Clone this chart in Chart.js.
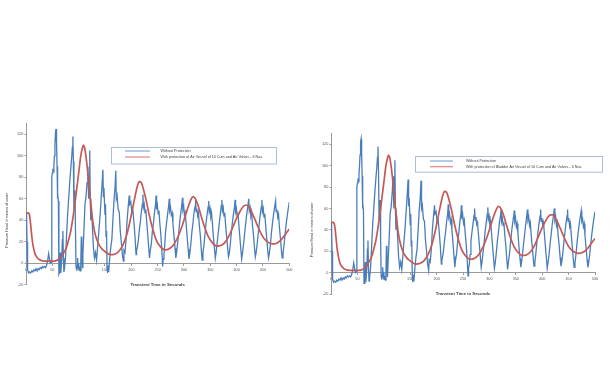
<!DOCTYPE html>
<html><head><meta charset="utf-8">
<script src="https://cdn.jsdelivr.net/npm/chart.js@4.4.0/dist/chart.umd.min.js"></script>
<style>
html,body{margin:0;padding:0;background:#fff;width:610px;height:383px;overflow:hidden;}
.box{position:absolute;}
</style></head><body>
<div class="box" style="left:0;top:110px;width:300px;height:185px"><canvas id="c1"></canvas></div>
<div class="box" style="left:305px;top:120px;width:305px;height:185px"><canvas id="c2"></canvas></div>
<script>
// ---- tick labels ----
const xTicks = [0,50,100,150,200,250,300,350,400,450,500];
const yTicks = [-20,0,20,40,60,80,100,120];

// ---- titles / series names ----
const xTitle = 'Transient Time in Seconds';
const yTitleText = 'Pressure Head in meters of water';
const seriesA = 'Without Protection';
const seriesB1 = 'With protection of Air Vessel of 10 Cum and Air Valves - 6 Nos.';
const seriesB2 = 'With protection of Bladder Air Vessel of 10 Cum and Air Valves - 6 Nos.';

// ---- "Without Protection" (time s, head m) ----
const blueTime = [
 0,1,2,3,5,7,9,11,13,15,
 17,19,21,23,25,27,29,31,33,35,
 37,39,41,43,44,46,48,49,50,51,
 52,53,54,55,56,57,58,59,59.5,60.5,
 61.5,62.5,64,65,66,68,69,70,71,72,
 73,75,77,79,81,83,85,87,88,89,
 90,91,92,93,94,95,96,97,98,99,
 100,101,102,103,104,105,106,107,108,110,
 112,114,116,117.5,119,120,121,122,123,124,
 126,128,130,132,134,136,138,140,142,144,
 146,147,148,150,151,152,153,154,155,156,
 157,159,161,163,165,167,169,170.5,171.5,173,
 175,177,179,181,183,185,186,188,190,192,
 194,196,197,199,201,203,205,207,209,210,
 211,213,215,217,219,221,222,223,224.5,226,227.5,229,231,233,234.5,
 236,238,240,242,244,246,247,248,249.5,251,252.5,254,256,258,259.5,260.5,
 262,263.5,265,267,269,271,272,273,274.5,276,277.5,279,281,283,284.5,
 286,288,290,292,294,296,297,298,299.5,301,302.5,304,306,308,309.5,
 311,313,315,317,319,321,322,323,324.5,326,327.5,329,331,333,334.5,
 336,338,340,342,344,346,347,348,349.5,351,352.5,354,356,358,359.5,
 361,363,365,367,369,371,372,373,374.5,376,377.5,379,381,383,384.5,
 386,388,390,392,394,396,397,398,399.5,401,402.5,404,406,408,409.5,
 411,413,415,417,419,421,423,424,425.5,427,428.5,430,432,434,435.5,
 437,439,441,443,445,447,448,449,450.5,452,453.5,455,457,459,460.5,
 462,464,466,468,470,472,474,475,476.5,478,479.5,481,483,485,486.5,
 488,490,492,494,496,498,500
];
const blueHead = [
 47,46,20,-6,-9,-8,-9,-7,-8,-6,
 -7,-5,-7,-5,-6,-4,-5,-3,-4,-3,
 -4,-2,2,9,6,0,1,80,84,88,
 85,92,100,110,122,125,112,90,60,65,
 58,-10,-8,10,-9,5,22,30,5,-8,
 -5,5,25,45,60,75,88,100,108,118,
 95,50,62,68,30,-3,-6,-2,5,-5,
 0,-6,-3,-7,-2,25,5,-4,8,30,
 55,62,75,90,60,80,105,60,40,55,
 35,15,5,10,3,15,28,40,55,70,
 87,62,70,45,55,25,30,-5,-9,-2,
 -8,5,15,22,40,58,70,86,60,63,
 50,48,30,20,8,2,12,10,22,40,
 52,63,55,57,47,49,38,25,8,12,
 14,20,30,38,48,55,64,52,55,47,50,40,28,15,5,
 12,18,30,37,47,55,63,50,54,46,49,38,27,12,-3,4,
 8,17,29,38,46,54,60,49,52,45,47,37,26,14,5,
 10,19,28,39,47,55,61,50,53,44,47,37,25,13,4,
 9,18,29,37,47,53,59,48,51,44,47,36,26,12,3,
 10,17,28,38,46,53,58,48,51,43,46,37,24,13,5,
 10,19,28,37,46,54,59,49,52,44,47,36,25,14,6,
 9,18,29,38,46,53,59,48,51,44,47,37,25,13,4,
 9,17,27,36,45,52,60,49,52,44,47,36,26,14,6,
 10,18,28,37,46,53,59,48,51,43,46,36,24,12,5,
 9,17,28,37,45,52,58,48,50,43,46,35,24,12,5,
 9,17,27,36,44,51,57
];

// ---- "With protection" (time s, head m) ----
const redTime = [
 0,4,6,8,10,12,14,17,20,25,
 30,40,50,56,62,67,72,77,81,85,
 89,93,97,101,104,107,109,111,114,117,
 121,125,130,136,143,150,160,168,176,184,
 191,197,202,207,211,215,219,223,228,234,
 240,247,255,264,272,280,288,296,303,309,
 313,317,321,326,332,339,346,354,362,370,
 378,386,393,400,406,411,416,420,425,431,
 438,445,452,460,468,475,483,491,500
];
const redHead = [
 47,47,46,40,30,21,15,9,6,3.5,
 2.5,2,2,2.3,3.5,6,10,15,22,30,
 42,56,72,88,100,107,110,108,99,86,
 66,46,30,20,14,11,8,8.5,11,17,
 26,38,50,62,71,76,75,69,59,45,
 33,22,15.5,12.5,13.5,17,24,34,45,54,
 59,62,60.5,55,45,34,25,19,16,16.5,
 19.5,26,34,42,48,52,54,54,51,45,
 37,29,23,19.5,18,18.5,21,26,32
];

const FAMILY = "'Liberation Sans', Arial, sans-serif";

const boxLegend = {
  id: 'boxLegend',
  afterDraw(chart, args, o) {
    const ctx = chart.ctx;
    ctx.save();
    ctx.strokeStyle = '#a9bfdc';
    ctx.lineWidth = 1;
    ctx.strokeRect(o.x + 0.5, o.y + 0.5, o.w, o.h);
    chart.data.datasets.forEach((ds, i) => {
      const yy = o.rows[i];
      ctx.strokeStyle = ds.legendColor;
      ctx.lineWidth = 1.2;
      ctx.beginPath(); ctx.moveTo(o.lx1, yy); ctx.lineTo(o.lx2, yy); ctx.stroke();
      ctx.fillStyle = '#404040';
      ctx.font = '3.7px ' + FAMILY;
      ctx.textBaseline = 'middle';
      ctx.textAlign = 'left';
      ctx.fillText(ds.label, o.tx, yy, o.tw);
    });
    ctx.restore();
  }
};

const yTitlePlugin = {
  id: 'yTitle',
  afterDraw(chart, args, o) {
    const ctx = chart.ctx;
    const y = chart.scales.y.getPixelForValue(o.at);
    ctx.save();
    ctx.translate(o.x, y);
    ctx.rotate(-Math.PI / 2);
    ctx.font = '3.7px ' + FAMILY;
    ctx.fillStyle = '#404040';
    ctx.textAlign = 'center';
    ctx.textBaseline = 'middle';
    ctx.fillText(yTitleText, 0, 0);
    ctx.restore();
  }
};

function makeChart(id, redLabel, pad, legendOpts) {
  const blue = blueTime.map((t, i) => ({x: t, y: blueHead[i]}));
  const red = redTime.map((t, i) => ({x: t, y: redHead[i]}));
  return new Chart(document.getElementById(id), {
    type: 'line',
    data: {
      datasets: [
        {label: seriesA, data: blue, borderColor: '#4A7EBB', legendColor: '#7eaadb', borderWidth: 1.3,
         pointRadius: 0, tension: 0, order: 2},
        {label: redLabel, data: red, borderColor: '#C55A55', legendColor: '#d98a86', borderWidth: 1.7,
         pointRadius: 0, cubicInterpolationMode: 'monotone', order: 1}
      ]
    },
    options: {
      responsive: true, maintainAspectRatio: false, animation: false, devicePixelRatio: 1,
      layout: {padding: pad},
      plugins: {legend: {display: false}, tooltip: {enabled: false},
        boxLegend: legendOpts, yTitle: {x: 6.7, at: 40}},
      scales: {
        x: {
          type: 'linear', position: {y: 0}, min: 0, max: 500,
          afterBuildTicks: s => { s.ticks = xTicks.map(v => ({value: v})); },
          ticks: {font: {size: 3.8, family: FAMILY}, color: '#595959', padding: 2.3, maxRotation: 0, autoSkip: false},
          grid: {display: true, drawOnChartArea: false, drawTicks: true, tickLength: 2, color: '#9a9a9a'},
          border: {color: '#9a9a9a', width: 1},
          title: {display: true, text: xTitle, font: {size: 4.3, weight: 'bold', family: FAMILY}, color: '#404040',
                  padding: {top: 7.6, bottom: 0}}
        },
        y: {
          min: -20, max: 130,
          afterBuildTicks: s => { s.ticks = yTicks.map(v => ({value: v})); },
          afterFit: s => { s.width = 26; },
          ticks: {font: {size: 3.8, family: FAMILY}, color: '#595959', padding: 1.2},
          grid: {display: true, drawOnChartArea: false, drawTicks: true, tickLength: 1.5, color: '#9a9a9a'},
          border: {color: '#9a9a9a', width: 1}
        }
      }
    },
    plugins: [boxLegend, yTitlePlugin]
  });
}

makeChart('c1', seriesB1, {top: 13.6, right: 10.7, bottom: 10.2, left: 0},
  {x: 111, y: 37, w: 165, h: 16.5, lx1: 125, lx2: 150, tx: 160.5, tw: 112, rows: [41, 47]});
makeChart('c2', seriesB2, {top: 13.6, right: 15, bottom: 11, left: 0},
  {x: 110, y: 36, w: 187, h: 15.7, lx1: 125, lx2: 148, tx: 161, tw: 125, rows: [41, 46.7]});
</script>
</body></html>
